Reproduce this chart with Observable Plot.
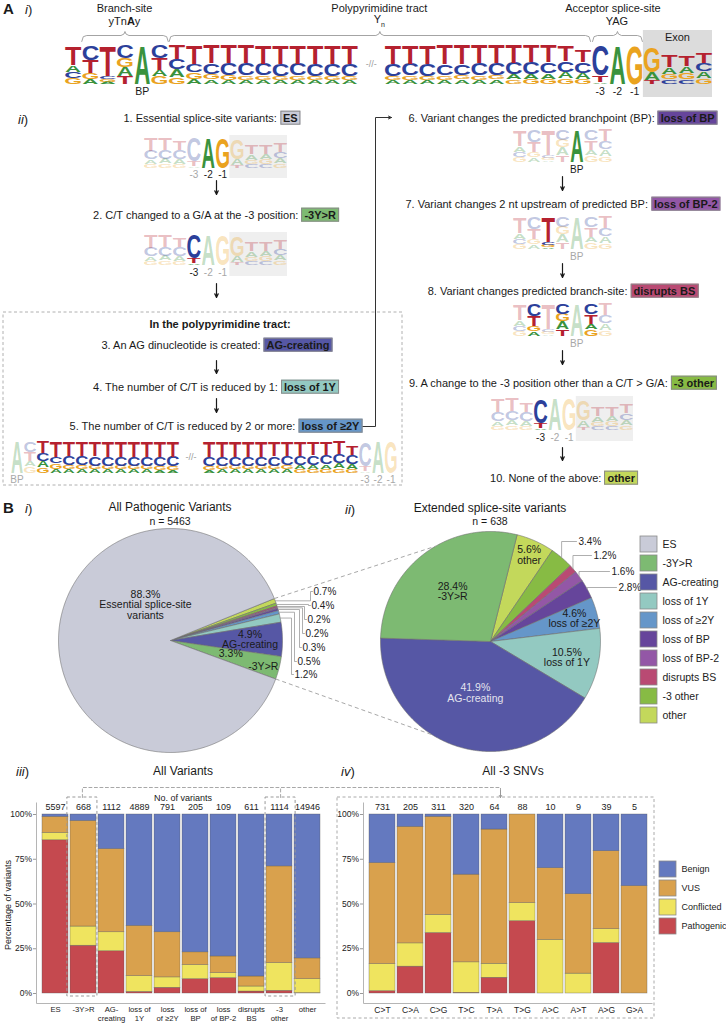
<!DOCTYPE html>
<html><head><meta charset="utf-8">
<script src="https://cdn.jsdelivr.net/npm/d3@7"></script>
<script src="https://cdn.jsdelivr.net/npm/@observablehq/plot@0.6"></script>
<style>
html,body{margin:0;padding:0;background:#fff;}
#fig{position:relative;width:726px;height:1026px;overflow:hidden;font-family:"Liberation Sans",Arial,Helvetica,sans-serif;color:#1a1a1a;background:#fff;}
#fig svg{position:absolute;left:0;top:0;}
.t{position:absolute;white-space:nowrap;line-height:1.15;}
.bx{font-weight:bold;border:1px solid #8a8a8a;padding:0 2px;}
</style></head>
<body><div id="fig"></div>
<script>
const W = 726, H = 1026;
const FONT = '"Liberation Sans", Arial, Helvetica, sans-serif';
const fig = document.getElementById("fig");

// ================= DATA =================
const categories = ["ES","-3Y>R","AG-creating","loss of 1Y","loss of ≥2Y","loss of BP","loss of BP-2","disrupts BS","-3 other","other"];
const categoryColors = ["#c9cbd8","#7dba72","#5657a5","#93c9c1","#6596c9","#66459b","#9357a6","#b94a73","#87bb44","#c3d85b"];
const categoryLongNames = ["Essential splice-site\nvariants","-3Y>R","AG-creating","loss of 1Y","loss of ≥2Y","loss of BP","loss of BP-2","disrupts BS","-3 other","other"];
const pathogenicShare = [88.3, 3.3, 4.9, 1.2, 0.5, 0.3, 0.2, 0.2, 0.4, 0.7];
const extendedShare = [0, 28.4, 41.9, 10.5, 4.6, 2.8, 1.6, 1.2, 3.4, 5.6];
const pathogenicTotal = 5463;
const extendedTotal = 638;

const classes = ["Pathogenic","Conflicted","VUS","Benign"];
const classColors = ["#c5494f","#efe45f","#d9a14d","#6479bf"];
const legendClasses = ["Benign","VUS","Conflicted","Pathogenic"];

const variantLabels = ["ES","-3Y>R","AG-\ncreating","loss of\n1Y","loss\nof ≥2Y","loss of\nBP","loss\nof BP-2","disrupts\nBS","-3\nother","other"];
const variantCounts = [5597,668,1112,4889,791,205,109,611,1114,14946];
const variantPathogenic = [85.6,26.7,23.6,0.9,3.2,8.0,8.6,1.1,1.5,0.2];
const variantConflicted = [4.1,10.7,10.6,8.8,5.8,7.9,2.8,2.8,15.5,7.8];
const variantVUS = [9.0,59.0,46.5,28.1,25.2,7.1,9.3,5.6,54.0,11.6];
const variantBenign = [1.3,3.6,19.3,62.2,65.8,77.0,79.3,90.5,29.0,80.4];

const snvTypes = ["C>T","C>A","C>G","T>C","T>A","T>G","A>C","A>T","A>G","G>A"];
const snvCounts = [731,205,311,320,64,88,10,9,39,5];
const snvPathogenic = [1.3,15.0,33.8,0.4,8.8,40.4,0,0,28.2,0];
const snvConflicted = [15.1,13.0,10.1,17.0,7.8,10.1,30,11.1,7.7,0];
const snvVUS = [56.5,65.1,54.8,49.0,75.0,49.5,40,44.4,43.6,60];
const snvBenign = [27.1,6.9,1.3,33.6,8.4,0,30,44.5,20.5,40];

// sequence-logo columns (letter, height in bits), bottom to top
const logoColumns = [
  [["G",.30],["C",.30],["A",.35],["T",.95]],
  [["A",.25],["G",.30],["T",.65],["C",.75]],
  [["A",.10],["G",.12],["C",.15],["T",1.55]],
  [["T",.40],["A",.45],["G",.45],["C",.65]],
  [["A",1.95]],
  [["G",.38],["A",.32],["T",.58],["C",.67]],
  [["G",.35],["A",.40],["C",.50],["T",.70]],
  [["A",.25],["G",.33],["C",.42],["T",.95]],
  [["A",.22],["G",.25],["C",.55],["T",.90]],
  [["A",.20],["G",.24],["C",.58],["T",.92]],
  [["A",.20],["G",.22],["C",.60],["T",.93]],
  [["A",.20],["G",.22],["C",.58],["T",.95]],
  [["A",.20],["G",.20],["C",.60],["T",.95]],
  [["A",.20],["G",.22],["C",.58],["T",.95]],
  [["A",.20],["G",.20],["C",.60],["T",.95]],
  [["A",.18],["G",.22],["C",.60],["T",.95]],
  [["A",.18],["G",.20],["C",.62],["T",.95]],
  [["A",.18],["G",.22],["C",.60],["T",.95]],
  [["A",.20],["G",.22],["C",.58],["T",.95]],
  [["A",.20],["G",.20],["C",.60],["T",.95]],
  [["A",.20],["G",.22],["C",.55],["T",.98]],
  [["A",.22],["G",.20],["C",.55],["T",.98]],
  [["A",.20],["G",.22],["C",.60],["T",.93]],
  [["A",.22],["G",.22],["C",.58],["T",.93]],
  [["G",.22],["A",.25],["C",.58],["T",.90]],
  [["G",.25],["A",.25],["C",.60],["T",.85]],
  [["G",.25],["A",.28],["C",.55],["T",.85]],
  [["G",.28],["A",.30],["C",.55],["T",.80]],
  [["G",.25],["A",.30],["C",.55],["T",.60]],
  [["A",.08],["T",.35],["C",1.50]],
  [["A",1.95]],
  [["G",1.95]],
  [["T",.18],["A",.40],["G",1.25]],
  [["C",.22],["G",.28],["A",.35],["T",.60]],
  [["C",.22],["G",.30],["A",.35],["T",.55]],
  [["G",.28],["A",.33],["C",.40],["T",.55]]
];
const letterColor = {A:"#3a923d", C:"#2c409a", G:"#eaa31f", T:"#b5212f"};

// ================= HELPERS =================
const esc = s => s.replace(/&/g,"&amp;").replace(/</g,"&lt;").replace(/>/g,"&gt;");
function T(html, x, y, o = {}) {
  const d = document.createElement("div");
  d.className = "t";
  d.innerHTML = html;
  const ax = o.anchor === "start" ? "0%" : o.anchor === "end" ? "-100%" : "-50%";
  d.style.left = x + "px"; d.style.top = y + "px";
  d.style.fontSize = (o.size || 11) + "px";
  d.style.transform = `translate(${ax},-50%)` + (o.rotate ? ` rotate(${o.rotate}deg)` : "");
  if (o.bold) d.style.fontWeight = "bold";
  if (o.italic) d.style.fontStyle = "italic";
  if (o.color) d.style.color = o.color;
  fig.appendChild(d);
  return d;
}
function boxed(cat) {
  const i = categories.indexOf(cat);
  return `<span class="bx" style="background:${categoryColors[i]}">${esc(cat)}</span>`;
}
function add(svg) { fig.appendChild(svg); return svg; }
function plotIn(frame, opts) {
  return Plot.plot({
    width: W, height: H,
    marginLeft: frame.left, marginRight: W - frame.right,
    marginTop: frame.top, marginBottom: H - frame.bottom,
    style: {background: "transparent", fontFamily: FONT, color: "#222", overflow: "visible"},
    ...opts
  });
}

// ================= SEQUENCE LOGOS =================
const INK = {A: 0.72, C: 0.66, G: 0.70, T: 0.60};
const CAP = 0.716, LF = 20;
function drawLogo(colIdx, box, opt) {
  const gap = opt.gap || 0, gapAfter = opt.gapAfter ?? 1e9;
  const pos = i => i + (i > gapAfter ? gap : 0);
  const n = colIdx.length;
  const bright = [], faded = [];
  colIdx.forEach((ci, i) => {
    let b = 0;
    for (const [L, h] of logoColumns[ci]) {
      (opt.bright(i) ? bright : faded).push({x: pos(i), L, base: b, h});
      b += h;
    }
  });
  const bits = px => (box.base - px) / (box.base - box.top) * 2;
  const marks = [];
  if (opt.bg) marks.push(Plot.rect([opt.bg], {x1: d => pos(d.from) - 0.5, x2: d => pos(d.to) + 0.5, y1: d => bits(d.bottom), y2: d => bits(d.top), fill: d => d.fill}));
  const sets = [[bright, 1], [faded, 0.3]].filter(s => s[0].length);
  for (const [rows, op] of sets) marks.push(Plot.text(rows, {x: "x", y: "base", text: "L", fill: d => letterColor[d.L], fillOpacity: op, fontSize: LF, fontWeight: "bold", fontFamily: FONT, lineAnchor: "bottom", textAnchor: "middle"}));
  if (opt.labels) marks.push(Plot.text(opt.labels, {x: d => pos(d.col), y: () => 0, text: "t", fill: "c", fontSize: opt.labelSize || 10, dy: opt.labelDy || 7, lineAnchor: "middle"}));
  if (opt.breakMark) marks.push(Plot.text(["-//-"], {x: () => pos(gapAfter) + 0.5 + gap / 2, y: () => 0.95, text: d => d, fill: "#9a9a9a", fontSize: 9}));
  const svg = add(plotIn({left: box.left, right: box.right, top: box.top, bottom: box.base}, {
    x: {domain: [-0.5, pos(n - 1) + 0.5], axis: null},
    y: {domain: [0, 2], axis: null},
    color: {type: "identity"},
    marks
  }));
  const xs = svg.scale("x"), ys = svg.scale("y");
  const colPx = xs.apply(1) - xs.apply(0);
  const groups = svg.querySelectorAll('g[aria-label="text"]');
  sets.forEach(([rows], k) => {
    groups[k].querySelectorAll("text").forEach(el => {
      const r = rows[d3.select(el).datum()];
      const X = xs.apply(r.x), Y = ys.apply(r.base);
      const hPx = ys.apply(0) - ys.apply(r.h);
      const sx = colPx * 0.93 / (INK[r.L] * LF), sy = hPx / (CAP * LF);
      el.removeAttribute("x"); el.removeAttribute("y");
      el.setAttribute("transform", `translate(${X},${Y}) scale(${sx},${sy})`);
    });
  });
  return pos;
}
const range = (a, b) => d3.range(a, b + 1);
const BLACK = "#1a1a1a", GREY = "#a8a8a8";

// top logo (A i)
const topBox = {left: 64, right: 712, top: 43, base: 83};
const topGap = 1.5, topW = (topBox.right - topBox.left) / (36 + topGap);
const topEdge = i => topBox.left + (i + (i > 16 ? topGap : 0)) * topW;
drawLogo(range(0, 35), topBox, {
  gap: topGap, gapAfter: 16, bright: () => true, breakMark: true,
  bg: {from: 32, to: 35, bottom: 97, top: 30, fill: "#dcdcdc"},
  labels: [{col: 4, t: "BP", c: BLACK}, {col: 29, t: "-3", c: BLACK}, {col: 30, t: "-2", c: BLACK}, {col: 31, t: "-1", c: BLACK}],
  labelDy: 8, labelSize: 10.5
});
// step logos
const acceptor = range(26, 35), branch = range(0, 6), poly = [4, 5, ...range(6, 31)];
drawLogo(acceptor, {left: 143, right: 287, top: 136, base: 167}, {
  bright: i => i === 4 || i === 5, bg: {from: 6, to: 9, bottom: 178, top: 135, fill: "#efefef"},
  labels: [{col: 3, t: "-3", c: GREY}, {col: 4, t: "-2", c: BLACK}, {col: 5, t: "-1", c: BLACK}], labelDy: 7, labelSize: 10
});
drawLogo(acceptor, {left: 143, right: 287, top: 233, base: 264}, {
  bright: i => i === 3, bg: {from: 6, to: 9, bottom: 276, top: 232, fill: "#efefef"},
  labels: [{col: 3, t: "-3", c: BLACK}, {col: 4, t: "-2", c: GREY}, {col: 5, t: "-1", c: GREY}], labelDy: 8, labelSize: 10
});
drawLogo(poly, {left: 10, right: 397, top: 440, base: 472}, {
  gap: 1.8, gapAfter: 12, breakMark: true, bright: i => i >= 2 && i <= 24,
  labels: [{col: 0, t: "BP", c: GREY}, {col: 25, t: "-3", c: GREY}, {col: 26, t: "-2", c: GREY}, {col: 27, t: "-1", c: GREY}], labelDy: 7, labelSize: 10
});
drawLogo(branch, {left: 512, right: 612, top: 128, base: 161}, {
  bright: i => i === 4, labels: [{col: 4, t: "BP", c: BLACK}], labelDy: 8, labelSize: 10
});
drawLogo(branch, {left: 512, right: 612, top: 215, base: 248}, {
  bright: i => i === 2, labels: [{col: 4, t: "BP", c: GREY}], labelDy: 8, labelSize: 10
});
drawLogo(branch, {left: 512, right: 612, top: 302, base: 335}, {
  bright: i => i === 1 || i === 3 || i === 5, labels: [{col: 4, t: "BP", c: GREY}], labelDy: 8, labelSize: 10
});
drawLogo(acceptor, {left: 490, right: 633, top: 397, base: 429}, {
  bright: i => i === 3, bg: {from: 6, to: 9, bottom: 441, top: 396, fill: "#efefef"},
  labels: [{col: 3, t: "-3", c: BLACK}, {col: 4, t: "-2", c: GREY}, {col: 5, t: "-1", c: GREY}], labelDy: 8, labelSize: 10
});

// ================= PIES =================
function drawPie(shares, cfg) {
  const total = d3.sum(shares);
  const order = categories.map((c, i) => i).reverse().filter(i => shares[i] > 0);
  let a = cfg.start;
  const slices = order.map(i => {
    const span = shares[i] / total * 360;
    const s = {i, cat: categories[i], color: categoryColors[i], share: shares[i], a0: a, a1: a + span, mid: a + span / 2};
    a += span; return s;
  });
  const pt = (deg, rr = 1) => ({x: rr * Math.sin(deg * Math.PI / 180), y: rr * Math.cos(deg * Math.PI / 180)});
  const poly = [];
  for (const s of slices) {
    poly.push({cat: s.cat, color: s.color, ...pt(0, 0)});
    const n = Math.max(2, Math.ceil((s.a1 - s.a0) / 0.5));
    for (let k = 0; k <= n; k++) poly.push({cat: s.cat, color: s.color, ...pt(s.a0 + (s.a1 - s.a0) * k / n)});
    poly.push({cat: s.cat, color: s.color, ...pt(0, 0)});
  }
  const byCat = Object.fromEntries(slices.map(s => [s.cat, s]));
  const inside = cfg.inside.map(L => {
    const s = byCat[L.cat];
    const p = pt(L.bearing ?? s.mid, L.r);
    const pct = s.share.toFixed(1) + "%";
    const name = categoryLongNames[s.i];
    return {...p, text: L.show === "pct" ? pct : L.show === "name" ? name : pct + "\n" + name, fill: L.fill || "#1a1a1a"};
  });
  const toX = px => (px - cfg.cx) / cfg.r, toY = py => (cfg.cy - py) / cfg.r;
  const leaderPts = [], leaderLabels = [];
  for (const L of cfg.leaders) {
    const s = byCat[L.cat];
    const E = pt(s.mid, 1.0);
    const ly = toY(L.ly);
    if (cfg.leaderMode === "h") {
      const ex = toX(L.lx - 3);
      [E, {x: ex, y: E.y}, {x: ex, y: ly}, {x: toX(L.lx - 1), y: ly}].forEach(p => leaderPts.push({cat: s.cat, ...p}));
    } else {
      [E, {x: E.x, y: ly}, {x: toX(L.lx - 2), y: ly}].forEach(p => leaderPts.push({cat: s.cat, ...p}));
    }
    leaderLabels.push({x: toX(L.lx), y: ly, text: s.share.toFixed(1) + "%"});
  }
  add(plotIn({left: cfg.cx - cfg.r, right: cfg.cx + cfg.r, top: cfg.cy - cfg.r, bottom: cfg.cy + cfg.r}, {
    x: {domain: [-1, 1], axis: null},
    y: {domain: [-1, 1], axis: null},
    color: {type: "identity"},
    marks: [
      Plot.line(poly, {x: "x", y: "y", z: "cat", fill: "color", stroke: "#6e6e6e", strokeWidth: 0.6, curve: "linear"}),
      Plot.text(inside, {x: "x", y: "y", text: "text", fill: "fill", fontSize: 10.5, lineHeight: 1.0}),
      Plot.line(leaderPts, {x: "x", y: "y", z: "cat", stroke: "#9a9a9a", strokeWidth: 0.8}),
      Plot.text(leaderLabels, {x: "x", y: "y", text: "text", textAnchor: "start", fontSize: 10, fill: "#222"})
    ]
  }));
}
const pie1 = {cx: 170, cy: 640, r: 112, start: 68};
const pie2 = {cx: 490, cy: 641, r: 110, start: 14};
drawPie(pathogenicShare, {...pie1, leaderMode: "h",
  inside: [
    {cat: "ES", bearing: 325, r: 0.39},
    {cat: "AG-creating", r: 0.71},
    {cat: "-3Y>R", bearing: 102, r: 0.55, show: "pct"},
    {cat: "-3Y>R", bearing: 105.5, r: 0.86, show: "name"}
  ],
  leaders: [
    {cat: "other", lx: 313, ly: 591}, {cat: "-3 other", lx: 311, ly: 605}, {cat: "disrupts BS", lx: 307, ly: 619},
    {cat: "loss of BP-2", lx: 305, ly: 633}, {cat: "loss of BP", lx: 302, ly: 647}, {cat: "loss of ≥2Y", lx: 297, ly: 661},
    {cat: "loss of 1Y", lx: 294, ly: 674}
  ]
});
drawPie(extendedShare, {...pie2, leaderMode: "v",
  inside: [
    {cat: "-3Y>R", r: 0.57}, {cat: "other", r: 0.86}, {cat: "loss of ≥2Y", r: 0.79},
    {cat: "loss of 1Y", r: 0.71}, {cat: "AG-creating", r: 0.49, fill: "#e4e4ee"}
  ],
  leaders: [
    {cat: "-3 other", lx: 578, ly: 541}, {cat: "disrupts BS", lx: 593, ly: 555},
    {cat: "loss of BP-2", lx: 611, ly: 571}, {cat: "loss of BP", lx: 618, ly: 587}
  ]
});

// ================= LEGENDS =================
function drawLegend(items, colors, f, textSize) {
  add(plotIn(f, {
    x: {type: "band", domain: ["s"], padding: 0, axis: null},
    y: {type: "band", domain: items, padding: 0.15, axis: null},
    color: {domain: items, range: colors},
    marks: [
      Plot.cell(items, {x: () => "s", y: d => d, fill: d => d, stroke: "#8a8a8a", strokeWidth: 0.8}),
      Plot.text(items, {x: () => "s", y: d => d, text: d => d, textAnchor: "start", dx: (f.right - f.left) / 2 + 5, fontSize: textSize, fill: "#222"})
    ]
  }));
}
drawLegend(categories, categoryColors, {left: 640, right: 657, top: 530, bottom: 730}, 10.5);
drawLegend(legendClasses, legendClasses.map(c => classColors[classes.indexOf(c)]), {left: 659, right: 676, top: 858, bottom: 938}, 9);

// ================= BARS =================
const BAR = {top: 814, bottom: 993, pi: 0.08, po: 0.02};
function drawBars(cats, labels, counts, series, left, right, labelSize) {
  const rows = [];
  cats.forEach((c, i) => classes.forEach((k, j) => rows.push({cat: c, cls: k, pct: series[j][i]})));
  const labelOf = new Map(cats.map((c, i) => [c, labels[i]]));
  add(plotIn({left, right, top: BAR.top, bottom: BAR.bottom}, {
    x: {type: "band", domain: cats, paddingInner: BAR.pi, paddingOuter: BAR.po, axis: null},
    y: {domain: [0, 100], axis: null},
    color: {domain: classes, range: classColors},
    marks: [
      Plot.barY(rows, Plot.stackY({x: "cat", y: "pct", fill: "cls", stroke: "#555", strokeWidth: 0.5, strokeOpacity: 0.7})),
      Plot.text(cats, {x: d => d, y: () => 100, text: (d, i) => String(counts[i]), dy: -7, fontSize: 9, fill: "#222"}),
      Plot.axisY({ticks: [0, 25, 50, 75, 100], tickFormat: d => d + "%", tickSize: 3, tickPadding: 1.5, dx: -4, fontSize: 8.5, label: null, stroke: "#999"}),
      Plot.axisX({tickSize: 0, tickPadding: 12, tickFormat: d => labelOf.get(d), fontSize: labelSize, lineHeight: 1.2, label: null})
    ]
  }));
}
drawBars(categories, variantLabels, variantCounts, [variantPathogenic, variantConflicted, variantVUS, variantBenign], 40, 322, 7.7);
drawBars(snvTypes, snvTypes, snvCounts, [snvPathogenic, snvConflicted, snvVUS, snvBenign], 367, 649, 8.5);

// ================= ANNOTATION OVERLAY =================
const xb = d3.scaleBand(categories, [40, 322]).paddingInner(BAR.pi).paddingOuter(BAR.po);
const bw = xb.bandwidth();
const pieEdge = (p, deg) => ({x: p.cx + p.r * Math.sin(deg * Math.PI / 180), y: p.cy - p.r * Math.cos(deg * Math.PI / 180)});
const zoomA1 = pieEdge(pie1, 68), zoomA2 = pieEdge(pie2, 330);
const zoomB1 = pieEdge(pie1, 110.1), zoomB2 = pieEdge(pie2, 212);
const bx1 = xb("-3Y>R") + bw / 2, bx2 = xb("-3 other") + bw / 2;
function brace(id, x1, x2, yEnd, yArm, yPeak) {
  const xm = (x1 + x2) / 2;
  return [[x1, yEnd], [x1 + 1.5, yArm + 1.2], [x1 + 5, yArm], [xm - 4, yArm], [xm - 1, yArm - 1.5], [xm, yPeak], [xm + 1, yArm - 1.5], [xm + 4, yArm], [x2 - 5, yArm], [x2 - 1.5, yArm + 1.2], [x2, yEnd]].map(([x, y]) => ({id, x, y}));
}
const braces = [
  ...brace("b", topEdge(1), topEdge(6), 41, 35, 31),
  ...brace("p", topEdge(6) + 1, topEdge(29) - 1, 41, 35, 31),
  ...brace("a", topEdge(29) + 1, topEdge(32) - 1, 41, 35, 31)
];
const downArrows = [
  [216, 180, 194], [216, 283, 297], [216, 360, 373], [216, 398, 412],
  [562, 176, 190], [562, 263, 277], [562, 350, 364], [562, 447, 460]
].map(([x, y1, y2]) => ({x, y1, y2}));
const connector = [{x: 360, y: 426}, {x: 375, y: 426}, {x: 375, y: 117}, {x: 380, y: 117}];
const dashedPath = [
  {id: 1, x: bx1, y: 797}, {id: 1, x: bx1, y: 787}, {id: 1, x: 500, y: 787}, {id: 1, x: 500, y: 792},
  {id: 2, x: bx2, y: 797}, {id: 2, x: bx2, y: 787}
];
const rects = [
  {x1: 3, x2: 402, y1: 312, y2: 485, s: "#b0b0b0"},
  {x1: xb("-3Y>R") - 2, x2: xb("-3Y>R") + bw + 2, y1: 797, y2: 996, s: "#999"},
  {x1: xb("-3 other") - 2, x2: xb("-3 other") + bw + 2, y1: 797, y2: 996, s: "#999"},
  {x1: 337, x2: 654, y1: 797, y2: 1018, s: "#aaa"}
];
const axisLines = [
  {x1: 36, y1: 802, x2: 36, y2: 1003}, {x1: 36, y1: 1003, x2: 325, y2: 1003},
  {x1: 363, y1: 802, x2: 363, y2: 1003}, {x1: 363, y1: 1003, x2: 652, y2: 1003}
];
add(plotIn({left: 0, right: W, top: 0, bottom: H}, {
  x: {domain: [0, W], axis: null},
  y: {domain: [0, H], reverse: true, axis: null},
  marks: [
    Plot.rect(rects, {x1: "x1", x2: "x2", y1: "y1", y2: "y2", fill: "none", stroke: d => d.s, strokeWidth: 1, strokeDasharray: "3,2.5"}),
    Plot.link(axisLines, {x1: "x1", y1: "y1", x2: "x2", y2: "y2", stroke: "#b5b5b5", strokeWidth: 1}),
    Plot.line(braces, {x: "x", y: "y", z: "id", stroke: "#9a9a9a", strokeWidth: 0.9}),
    Plot.arrow(downArrows, {x1: "x", y1: "y1", x2: "x", y2: "y2", stroke: "#1a1a1a", strokeWidth: 1.2, headLength: 5, headAngle: 50}),
    Plot.line(connector, {x: "x", y: "y", stroke: "#333", strokeWidth: 1}),
    Plot.arrow([{x1: 378, y1: 117, x2: 391, y2: 117}], {x1: "x1", y1: "y1", x2: "x2", y2: "y2", stroke: "#333", strokeWidth: 1, headLength: 5, headAngle: 50}),
    Plot.link([{x1: zoomA1.x, y1: zoomA1.y, x2: zoomA2.x, y2: zoomA2.y}, {x1: zoomB1.x, y1: zoomB1.y, x2: zoomB2.x, y2: zoomB2.y}], {x1: "x1", y1: "y1", x2: "x2", y2: "y2", stroke: "#a8a8a8", strokeWidth: 1, strokeDasharray: "4,3"}),
    Plot.line(dashedPath, {x: "x", y: "y", z: "id", stroke: "#a8a8a8", strokeWidth: 1, strokeDasharray: "3,2.5"}),
    Plot.arrow([{x1: 500, y1: 790, x2: 500, y2: 797}], {x1: "x1", y1: "y1", x2: "x2", y2: "y2", stroke: "#999", strokeWidth: 1, headLength: 4, headAngle: 60})
  ]
}));

// ================= TEXT =================
T("<b>A</b>", 3, 9, {size: 15, anchor: "start"});
T("<i>i</i>)", 25, 10, {size: 13, anchor: "start"});
const m1 = (topEdge(1) + topEdge(6)) / 2, m2 = (topEdge(6) + topEdge(29)) / 2, m3 = (topEdge(29) + topEdge(32)) / 2;
T("Branch-site", m1, 8, {size: 11}); T("yTn<b>A</b>y", m1, 21, {size: 11});
T("Polypyrimidine tract", m2, 8, {size: 11}); T("Y<sub style='font-size:7px'>n</sub>", m2, 21, {size: 11});
T("Acceptor splice-site", m3 - 4, 8, {size: 11}); T("YAG", m3, 21, {size: 11});
T("Exon", (topEdge(32) + topBox.right) / 2, 37, {size: 11});

T("<i>ii</i>)", 18, 120, {size: 13, anchor: "start"});
const steps = [
  ["1. Essential splice-site variants: ", "ES", 212, 118],
  ["2. C/T changed to a G/A at the -3 position: ", "-3Y>R", 216, 215],
  ["3. An AG dinucleotide is created: ", "AG-creating", 217, 345],
  ["4. The number of C/T is reduced by 1: ", "loss of 1Y", 216, 387],
  ["5. The number of C/T is reduced by 2 or more: ", "loss of ≥2Y", 216, 426],
  ["6. Variant changes the predicted branchpoint (BP): ", "loss of BP", 563, 118],
  ["7. Variant changes 2 nt upstream of predicted BP: ", "loss of BP-2", 563, 204],
  ["8. Variant changes predicted branch-site: ", "disrupts BS", 563, 291],
  ["9. A change to the -3 position other than a C/T > G/A: ", "-3 other", 563, 383],
  ["10. None of the above: ", "other", 564, 478]
];
for (const [t, c, x, y] of steps) T(esc(t) + boxed(c), x, y, {size: 11});
T("In the polypyrimidine tract:", 220, 324, {size: 11, bold: true});

T("<b>B</b>", 3, 508, {size: 15, anchor: "start"});
T("<i>i</i>)", 25, 509, {size: 13, anchor: "start"});
T("All Pathogenic Variants", pie1.cx, 508, {size: 12});
T("n = " + pathogenicTotal, pie1.cx, 521, {size: 10.5});
T("<i>ii</i>)", 345, 510, {size: 13, anchor: "start"});
T("Extended splice-site variants", pie2.cx, 509, {size: 12});
T("n = " + extendedTotal, pie2.cx, 521, {size: 10.5});

T("<i>iii</i>)", 16, 772, {size: 13, anchor: "start"});
T("All Variants", 183, 772, {size: 12});
T("<i>iv</i>)", 341, 772, {size: 13, anchor: "start"});
T("All -3 SNVs", 513, 772, {size: 12});
T("No. of variants", 183, 798, {size: 9});
T("Percentage of variants", 8, 905, {size: 9, rotate: -90});
</script></body></html>
